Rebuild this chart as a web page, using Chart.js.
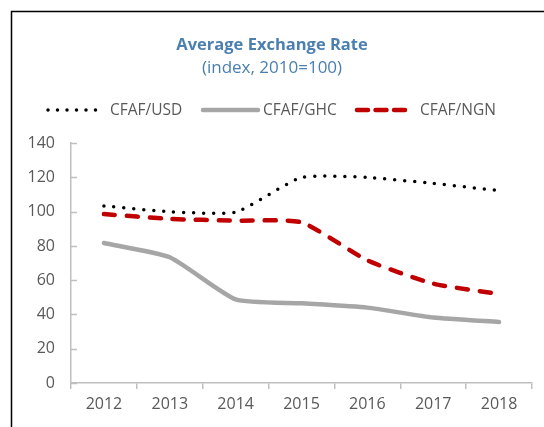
<!DOCTYPE html>
<html>
<head>
<meta charset="utf-8">
<script src="https://cdn.jsdelivr.net/npm/chart.js@4/dist/chart.umd.min.js"></script>
<style>
html,body{margin:0;padding:0;background:#fff;}
#wrap{position:absolute;left:0;top:0;width:544px;height:427px;}
</style>
</head>
<body>
<div id="wrap"><canvas id="c" width="544" height="427"></canvas></div>
<script>
const categories = ['2012','2013','2014','2015','2016','2017','2018'];
const usd = [103.4, 100, 99.8, 120, 120, 116.5, 112.3];
const ghc = [81.7, 73.4, 48.8, 46.5, 44, 38.2, 35.6];
const ngn = [98.6, 95.8, 94.8, 93.8, 71.6, 58, 52];
const yTicks = [0, 20, 40, 60, 80, 100, 120, 140];

const FONT = "'Open Sans', 'Noto Sans', sans-serif";
const AXIS = '#bfbfbf';
const TXT = '#595959';

// legend layout (sample start, sample end, text x)
const legendPos = [[48, 100, 110], [203, 258, 263], [357, 408, 420]];
const LEGEND_Y = 110;

const framePlugin = {
  id: 'frame',
  afterDraw(chart) {
    const ctx = chart.ctx;
    ctx.save();
    ctx.strokeStyle = '#000';
    ctx.lineWidth = 1.5;
    ctx.beginPath();
    ctx.moveTo(11.5, 427);
    ctx.lineTo(11.5, 11.5);
    ctx.lineTo(544, 11.5);
    ctx.stroke();
    // inward y ticks
    const y = chart.scales.y;
    const left = chart.chartArea.left;
    ctx.strokeStyle = AXIS;
    ctx.lineWidth = 1.5;
    ctx.setLineDash([]);
    ctx.beginPath();
    yTicks.forEach(v => {
      const py = Math.round(y.getPixelForValue(v)) + 0.5;
      ctx.moveTo(left, py);
      ctx.lineTo(left + 6, py);
    });
    ctx.stroke();
    // legend
    chart.data.datasets.forEach((ds, i) => {
      const [x0, x1, tx] = legendPos[i];
      ctx.save();
      ctx.strokeStyle = ds.borderColor;
      ctx.lineWidth = ds.borderWidth;
      ctx.lineCap = ds.borderCapStyle || 'butt';
      ctx.setLineDash(ds.legendDash || ds.borderDash || []);
      ctx.beginPath();
      ctx.moveTo(x0, LEGEND_Y);
      ctx.lineTo(x1, LEGEND_Y);
      ctx.stroke();
      ctx.restore();
      ctx.fillStyle = TXT;
      ctx.font = "15.5px " + FONT;
      ctx.textBaseline = 'middle';
      ctx.textAlign = 'left';
      ctx.fillText(ds.label, tx, LEGEND_Y + 1);
    });
    ctx.restore();
  }
};

new Chart(document.getElementById('c'), {
  type: 'line',
  data: {
    labels: categories,
    datasets: [
      {label: 'CFAF/USD', data: usd, borderColor: '#000', backgroundColor: '#000',
       borderWidth: 3.5, borderDash: [0, 10], legendDash: [0, 9.5], borderCapStyle: 'round', tension: 0.18, pointRadius: 0},
      {label: 'CFAF/GHC', data: ghc, borderColor: '#a6a6a6', backgroundColor: '#a6a6a6',
       borderWidth: 4.5, borderCapStyle: 'round', tension: 0.18, pointRadius: 0},
      {label: 'CFAF/NGN', data: ngn, borderColor: '#c00000', backgroundColor: '#c00000',
       borderWidth: 4.5, borderDash: [11, 12], legendDash: [11, 7.5], borderCapStyle: 'round', tension: 0.18, pointRadius: 0}
    ]
  },
  options: {
    responsive: false,
    animation: false,
    layout: {padding: {top: 35, left: 12, right: 12, bottom: 0}},
    plugins: {
      title: {display: true, text: 'Average Exchange Rate', color: '#4a7fb0',
        font: {family: FONT, size: 16.5, weight: 'bold'}, padding: {top: 0, bottom: 3}},
      subtitle: {display: true, text: '(index, 2010=100)', color: '#4a7fb0',
        font: {family: FONT, size: 17}, padding: {top: 0, bottom: 65}},
      legend: {display: false},
      tooltip: {enabled: false}
    },
    scales: {
      x: {
        offset: true,
        grid: {display: true, drawOnChartArea: false, offset: true, color: AXIS, lineWidth: 1.5, tickLength: 6},
        border: {display: true, color: AXIS, width: 1.5},
        ticks: {color: TXT, font: {family: FONT, size: 16}, padding: 6, maxRotation: 0},
        afterFit(s) { s.height = 44; }
      },
      y: {
        min: 0, max: 140,
        afterBuildTicks(s) { s.ticks = yTicks.map(v => ({value: v})); },
        grid: {display: false},
        border: {display: true, color: AXIS, width: 1.5},
        ticks: {color: TXT, font: {family: FONT, size: 16}, padding: 8},
        afterFit(s) { s.width = 59; }
      }
    }
  },
  plugins: [framePlugin]
});
</script>
</body>
</html>
